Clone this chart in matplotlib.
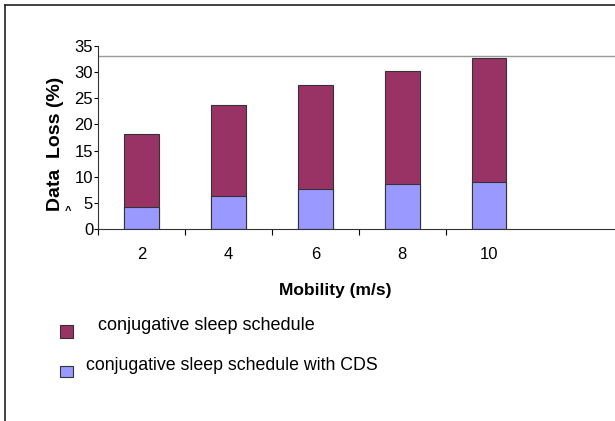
import numpy as np
import matplotlib.pyplot as plt
from matplotlib.patches import Rectangle
from matplotlib.lines import Line2D

plt.rcParams['font.family'] = ['Liberation Sans', 'DejaVu Sans']

mobility = ['2', '4', '6', '8', '10']
conj = [18.1, 23.7, 27.6, 30.2, 32.7]      # conjugative sleep schedule
conj_cds = [4.3, 6.4, 7.6, 8.6, 8.9]       # with CDS
series_names = ['conjugative sleep schedule', 'conjugative sleep schedule with CDS']
colors = ['#993366', '#9999FF']

W, H = 615, 421
fig = plt.figure(figsize=(W / 100, H / 100), dpi=100)

def fx(px): return px / W
def fy(py): return 1 - py / H

ax = fig.add_axes([fx(98), fy(229), fx(615) - fx(98), fy(46) - fy(229)])
x = np.arange(len(mobility))
ax.bar(x, conj, width=0.4, color=colors[0], edgecolor='#333333', linewidth=0.8)
ax.bar(x, conj_cds, width=0.4, color=colors[1], edgecolor='#333333', linewidth=0.8)
ax.axhline(33, color='#999999', linewidth=1)

ax.set_ylim(0, 35)
ax.set_xlim(-0.5, -0.5 + (615 - 98) / 86.9)
ax.set_yticks(range(0, 36, 5))
ax.tick_params(axis='y', direction='out', length=3, pad=0.5, labelsize=12)
ax.set_xticks(np.arange(-0.5, 4, 1))
ax.set_xticklabels([])
ax.set_xticks(x, minor=True)
ax.set_xticklabels(mobility, minor=True)
ax.tick_params(axis='x', which='major', direction='out', length=4)
ax.tick_params(axis='x', which='minor', length=0, pad=13, labelsize=12)
for s in ['top', 'right']:
    ax.spines[s].set_visible(False)
ax.spines['left'].set_color('#333333')
ax.spines['bottom'].set_color('#333333')

fig.text(fx(55), fy(144), 'Data  Loss (%)', rotation=90, ha='center', va='center',
         fontsize=14, fontweight='bold')
fig.text(fx(68), fy(211), '^', ha='center', va='center', fontsize=8, fontweight='bold')
fig.text(fx(335), fy(291), 'Mobility (m/s)', ha='center', va='center',
         fontsize=12.5, fontweight='bold')

# legend
fig.patches.append(Rectangle((fx(60), fy(338)), fx(13), fy(325) - fy(338), transform=fig.transFigure,
                             facecolor=colors[0], edgecolor='#333333', linewidth=0.8))
fig.patches.append(Rectangle((fx(60), fy(377)), fx(13), fy(366) - fy(377), transform=fig.transFigure,
                             facecolor=colors[1], edgecolor='#333333', linewidth=0.8))
fig.text(fx(98), fy(326), series_names[0], ha='left', va='center', fontsize=13)
fig.text(fx(86), fy(366), series_names[1], ha='left', va='center', fontsize=12.8)

# outer frame
fig.add_artist(Line2D([fx(5), 1], [fy(5), fy(5)], transform=fig.transFigure, color='#222222', lw=1.2))
fig.add_artist(Line2D([fx(5), fx(5)], [fy(5), 0], transform=fig.transFigure, color='#222222', lw=1.2))

fig.savefig('out.png', dpi=100)
